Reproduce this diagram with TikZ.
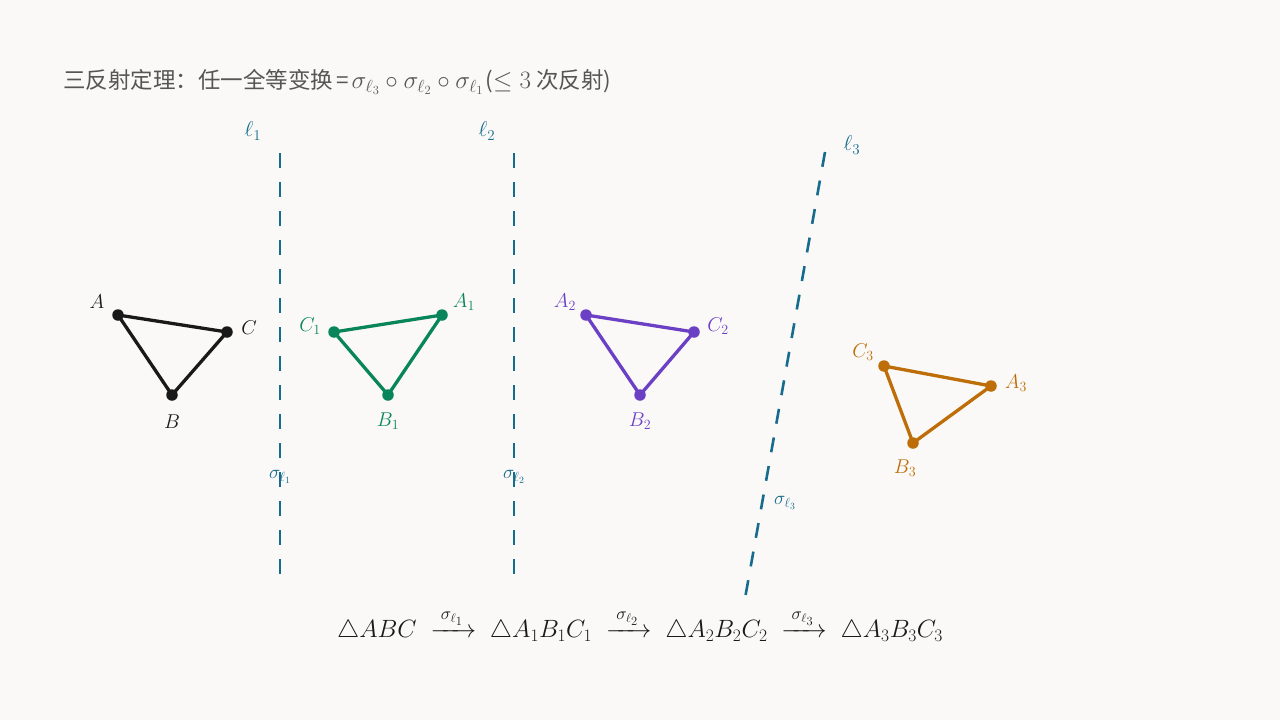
\RequirePackage{fix-cm}
\documentclass[tikz,border=0pt]{standalone}
\usepackage{amsmath}
\usepackage{fontspec}
\newfontfamily\cjk{Noto Sans CJK SC}
\definecolor{bgc}{RGB}{250,249,248}
\definecolor{linec}{RGB}{22,108,140}
\definecolor{greenc}{RGB}{8,133,90}
\definecolor{purplec}{RGB}{108,64,196}
\definecolor{orangec}{RGB}{190,110,8}
\definecolor{blackc}{RGB}{25,25,25}
\definecolor{titlec}{RGB}{85,85,85}
\tikzset{
  mirror/.style={draw=linec, line width=2.6pt, dash pattern=on 15pt off 14pt},
  tri/.style={line width=3.3pt, line join=round},
  vdot/.style={circle, inner sep=0pt, minimum size=11.5pt},
  lab/.style={font=\fontsize{20}{24}\selectfont, inner sep=0pt},
  mlab/.style={font=\fontsize{19}{22}\selectfont, text=linec, inner sep=0pt},
  llab/.style={font=\fontsize{21.5}{24}\selectfont, text=linec, inner sep=0pt},
}
\begin{document}
\begin{tikzpicture}[x=1pt,y=-1pt]
\fill[bgc] (0,0) rectangle (1280,720);
\useasboundingbox (0,0) rectangle (1280,720);
% title
\node[anchor=west, text=titlec, inner sep=0pt, font=\fontsize{22.5}{26}\selectfont] (title) at (63,82)
  {{\cjk 三反射定理：任一全等变换\kern3pt=\kern3pt}{\fontsize{25}{28}\selectfont$\sigma_{\ell_3}\circ\sigma_{\ell_2}\circ\sigma_{\ell_1}$}\kern2pt{\cjk (}{\fontsize{25}{28}\selectfont$\le 3$}\kern5pt{\cjk 次反射)}};
% mirror lines
\coordinate (l1t) at (280,153); \coordinate (l1b) at (280,576);
\coordinate (l2t) at (514,153); \coordinate (l2b) at (514,576);
\coordinate (l3t) at (825,152); \coordinate (l3b) at (744,604);
\draw[mirror] (l1t) -- (l1b);
\draw[mirror] (l2t) -- (l2b);
\draw[mirror] (l3t) -- (l3b);
\node[llab] (nl1) at (253,131) {$\ell_1$};
\node[llab] (nl2) at (487,131) {$\ell_2$};
\node[llab] (nl3) at (852,145) {$\ell_3$};
\node[mlab] (s1) at (280,477) {$\sigma_{\ell_1}$};
\node[mlab] (s2) at (514,477) {$\sigma_{\ell_2}$};
\node[mlab] (s3) at (785,503) {$\sigma_{\ell_3}$};
% triangle 0
\node[vdot, fill=blackc] (A) at (118,315) {};
\node[vdot, fill=blackc] (C) at (227,332) {};
\node[vdot, fill=blackc] (B) at (172,395) {};
\draw[tri, blackc] (A.center) -- (C.center) -- (B.center) -- cycle;
\node[lab, text=blackc] (lA) at (97,302) {$A$};
\node[lab, text=blackc] (lC) at (249,328) {$C$};
\node[lab, text=blackc] (lB) at (172,422) {$B$};
% triangle 1
\node[vdot, fill=greenc] (A1) at (442,315) {};
\node[vdot, fill=greenc] (C1) at (334,332) {};
\node[vdot, fill=greenc] (B1) at (388,395) {};
\draw[tri, greenc] (A1.center) -- (C1.center) -- (B1.center) -- cycle;
\node[lab, text=greenc] (lA1) at (464,302) {$A_1$};
\node[lab, text=greenc] (lC1) at (310,326) {$C_1$};
\node[lab, text=greenc] (lB1) at (388,421) {$B_1$};
% triangle 2
\node[vdot, fill=purplec] (A2) at (586,315) {};
\node[vdot, fill=purplec] (C2) at (694,332) {};
\node[vdot, fill=purplec] (B2) at (640,395) {};
\draw[tri, purplec] (A2.center) -- (C2.center) -- (B2.center) -- cycle;
\node[lab, text=purplec] (lA2) at (565,302) {$A_2$};
\node[lab, text=purplec] (lC2) at (718,326) {$C_2$};
\node[lab, text=purplec] (lB2) at (640,421) {$B_2$};
% triangle 3
\node[vdot, fill=orangec] (A3) at (991,386) {};
\node[vdot, fill=orangec] (C3) at (884,366) {};
\node[vdot, fill=orangec] (B3) at (913,443) {};
\draw[tri, orangec] (A3.center) -- (C3.center) -- (B3.center) -- cycle;
\node[lab, text=orangec] (lA3) at (1016,383) {$A_3$};
\node[lab, text=orangec] (lC3) at (863,352) {$C_3$};
\node[lab, text=orangec] (lB3) at (905,468) {$B_3$};
% bottom chain
\node[inner sep=0pt, text=blackc, font=\fontsize{25}{30}\selectfont] (chain) at (640,626)
  {$\triangle ABC \;\xrightarrow{\;\sigma_{\ell_1}\;}\; \triangle A_1B_1C_1 \;\xrightarrow{\;\sigma_{\ell_2}\;}\; \triangle A_2B_2C_2 \;\xrightarrow{\;\sigma_{\ell_3}\;}\; \triangle A_3B_3C_3$};
\end{tikzpicture}
\end{document}
